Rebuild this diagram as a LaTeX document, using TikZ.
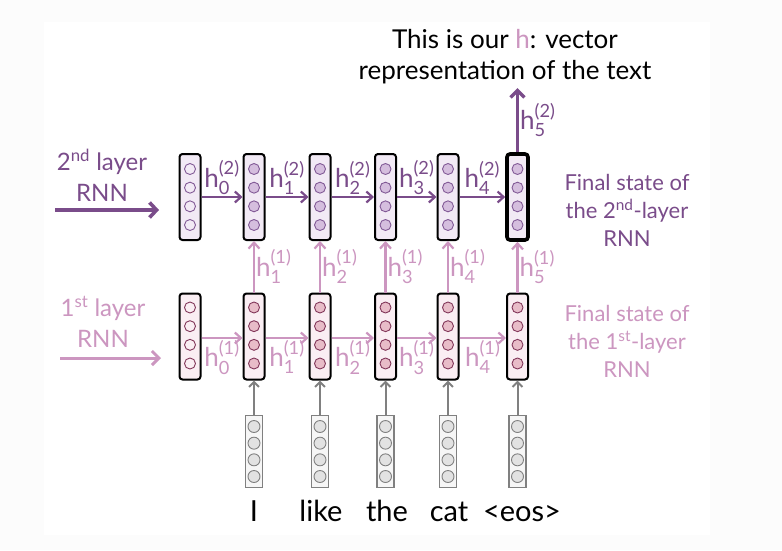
\documentclass[tikz,border=0pt]{standalone}
\usepackage{amsmath}
\usepackage{fontspec}
\setmainfont{Lato}
\usepackage{tikz}
\usetikzlibrary{arrows.meta}
\definecolor{topc}{RGB}{122,76,138}
\definecolor{botc}{RGB}{204,150,192}
\definecolor{topfill}{RGB}{242,234,245}
\definecolor{botfill}{RGB}{250,238,243}
\definecolor{topdot}{RGB}{213,190,222}
\definecolor{topline}{RGB}{130,90,150}
\definecolor{botdot}{RGB}{232,188,200}
\definecolor{botline}{RGB}{130,55,90}
\definecolor{embc}{RGB}{128,128,128}
\definecolor{embfill}{RGB}{246,246,246}
\definecolor{embdot}{RGB}{226,226,226}
\definecolor{bgout}{RGB}{252,252,252}

\begin{document}
\begin{tikzpicture}[x=1pt,y=-1pt,font={\fontsize{24}{31}\selectfont},
  box/.style={draw,line width=2pt,rounded corners=3pt,minimum width=21pt,minimum height=86pt,inner sep=0pt},
  upper/.style={box,fill=topfill},
  final/.style={upper,line width=3.6pt},
  lower/.style={box,fill=botfill},
  emb/.style={draw=embc,line width=1.6pt,fill=embfill,minimum width=17pt,minimum height=72pt,inner sep=0pt},
  dot/.style={circle,line width=0.9pt,minimum size=11pt,inner sep=0pt},
  tdot/.style={dot,draw=topline,fill=topdot},
  tdotz/.style={dot,draw=topline,fill=topfill},
  bdot/.style={dot,draw=botline,fill=botdot},
  bdotz/.style={dot,draw=botline,fill=botfill},
  edot/.style={dot,draw=embc,fill=embdot,minimum size=12pt},
  upar/.style={draw=topc,line width=2.2pt,-{Straight Barb[length=6pt,width=11pt]}},
  lowar/.style={draw=botc,line width=2.2pt,-{Straight Barb[length=6pt,width=11pt]}},
  embar/.style={draw=embc,line width=2pt,-{Straight Barb[length=5pt,width=10pt]}},
  lab/.style={inner sep=1pt,font={\fontsize{26}{30}\selectfont}},
  side/.style={align=center,font={\fontsize{22}{28}\selectfont}}]
\newcommand{\hstate}[2]{$\text{h}_{\text{#1}}^{\text{(#2)}}$}
\useasboundingbox (0,0) rectangle (782,550);
\fill[bgout] (0,0) rectangle (782,550);
\fill[white] (44,22) rectangle (710,535);
% the two RNN layers
\foreach \xc/\tsty/\tdsty/\bdsty [count=\k from 0] in {190/upper/tdotz/bdotz,254/upper/tdot/bdot,320/upper/tdot/bdot,385.5/upper/tdot/bdot,448/upper/tdot/bdot,517.5/final/tdot/bdot} {
  \node[\tsty] (t\k) at (\xc,197) {};
  \node[lower] (b\k) at (\xc,336.5) {};
  \foreach \dy [count=\j] in {-28,-9.33,9.33,28} {
    \node[\tdsty] (t\k d\j) at (\xc,197+\dy) {};
    \node[\bdsty] (b\k d\j) at (\xc,335.5+\dy) {};
  }
}
% word embeddings
\foreach \xc/\wx/\w [count=\k] in {254/254/I,320/321/like,385.5/387/the,448/449/cat,517.5/522/{<eos>}} {
  \node[emb] (e\k) at (\xc,451.5) {};
  \foreach \dy [count=\j] in {-25,-8.33,8.33,25} {
    \node[edot] (e\k d\j) at (\xc,451.5+\dy) {};
  }
  \node[anchor=base,font={\fontsize{29}{32}\selectfont}] (w\k) at (\wx,521) {\w};
  \draw[embar] (e\k.north) -- (b\k.south);
}
\foreach \i/\n in {0/1,1/2,2/3,3/4,4/5} {
  \draw[upar] (t\i.east) -- (t\n.west) node[midway,above,lab,text=topc] (ht\i) {\hstate{\i}{2}};
  \draw[lowar] ([yshift=-1.5pt]b\i.east) -- ([yshift=-1.5pt]b\n.west) node[midway,below,lab,text=botc] (hb\i) {\hstate{\i}{1}};
  \draw[lowar] (b\n.north) -- (t\n.south) node[midway,right,lab,text=botc] (hu\n) {\hstate{\n}{1}};
}
% output of the 2nd layer
\coordinate (out) at (517.5,88);
\draw[draw=topc,line width=3.4pt,-{Straight Barb[length=7pt,width=14pt]}] (t5.north) -- (out) node[midway,right,lab,text=topc] (hout) {\hstate{5}{2}};
\node[align=center,font={\fontsize{26}{31}\selectfont}] (title) at (505,57) {This is our \textcolor{botc}{h}: vector\\representation of the text};
% layer names on the left
\node[align=center,text=topc] (name2) at (102,175) {2\textsuperscript{nd} layer\\RNN};
\coordinate (in2a) at (55,210); \coordinate (in2b) at (159,210);
\draw[draw=topc,line width=3.6pt,-{Straight Barb[length=7pt,width=15pt]}] (in2a) -- (in2b);
\node[align=center,text=botc] (name1) at (103,322) {1\textsuperscript{st} layer\\RNN};
\coordinate (in1a) at (60,358); \coordinate (in1b) at (161,358);
\draw[draw=botc,line width=3pt,-{Straight Barb[length=7pt,width=14pt]}] (in1a) -- (in1b);
% final states on the right
\node[side,text=topc] (fin2) at (627,210) {Final state of\\the 2\textsuperscript{nd}-layer\\RNN};
\node[side,text=botc] (fin1) at (627,341) {Final state of\\the 1\textsuperscript{st}-layer\\RNN};
\end{tikzpicture}
\end{document}
